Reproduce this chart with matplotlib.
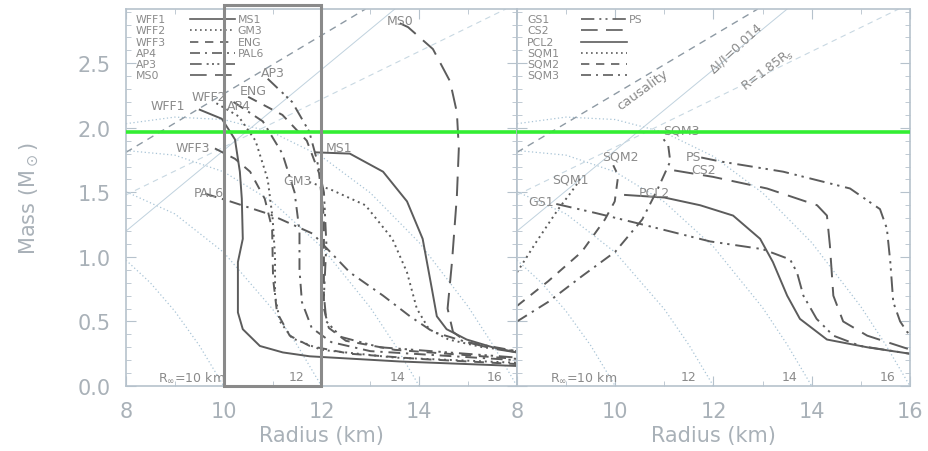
"""Mass-radius curves for neutron star equations of state,
normal matter on the left and self-bound / hybrid models on the right"""

import matplotlib.pyplot as plt
from matplotlib.patches import Rectangle

# ---- left panel equations of state (radius in km, mass in Msun) ----
wff1_r = [9.51, 9.96, 10.23, 10.33, 10.37, 10.39, 10.29, 10.29, 10.39, 10.74, 11.21, 11.76, 13.6, 16.0]
wff1_m = [2.14, 2.07, 1.91, 1.66, 1.45, 1.14, 0.96, 0.57, 0.44, 0.31, 0.26, 0.23, 0.19, 0.155]

wff2_r = [9.85, 10.3, 10.65, 10.9, 11.0, 11.05, 11.05, 11.15, 11.4, 12.0, 13.5, 16.0]
wff2_m = [2.19, 2.09, 1.9, 1.6, 1.3, 1.0, 0.7, 0.5, 0.37, 0.28, 0.22, 0.18]

wff3_r = [9.82, 10.23, 10.54, 10.84, 10.99, 11.01, 11.09, 11.35, 11.76, 12.58, 14.0, 16.0]
wff3_m = [1.84, 1.76, 1.66, 1.45, 1.22, 0.83, 0.57, 0.39, 0.31, 0.25, 0.21, 0.17]

ap4_r = [10.2, 10.8, 11.2, 11.45, 11.55, 11.55, 11.6, 11.8, 12.2, 13.0, 16.0]
ap4_m = [2.2, 2.05, 1.8, 1.5, 1.2, 0.9, 0.65, 0.45, 0.34, 0.27, 0.2]

ap3_r = [10.9, 11.4, 11.75, 11.9, 12.05, 12.1, 12.05, 12.1, 12.4, 13.2, 16.0]
ap3_m = [2.38, 2.2, 1.97, 1.76, 1.5, 1.1, 0.7, 0.5, 0.38, 0.3, 0.22]

eng_r = [10.5, 11.2, 11.7, 11.95, 12.05, 12.05, 12.05, 12.15, 12.5, 13.5, 16.0]
eng_m = [2.24, 2.1, 1.9, 1.65, 1.3, 0.9, 0.6, 0.45, 0.35, 0.28, 0.21]

ms0_r = [13.6, 13.77, 14.28, 14.63, 14.77, 14.81, 14.77, 14.67, 14.58, 14.69, 14.97, 15.5, 16.0]
ms0_m = [2.81, 2.78, 2.61, 2.36, 2.12, 1.84, 1.47, 0.96, 0.60, 0.42, 0.34, 0.29, 0.26]

ms1_r = [11.87, 12.58, 13.26, 13.75, 14.07, 14.26, 14.36, 14.56, 14.97, 15.5, 16.0]
ms1_m = [1.81, 1.80, 1.66, 1.43, 1.14, 0.75, 0.54, 0.44, 0.36, 0.30, 0.26]

gm3_r = [11.75, 12.2, 12.9, 13.45, 13.75, 13.95, 14.2, 14.6, 15.3, 16.0]
gm3_m = [1.58, 1.52, 1.40, 1.14, 0.88, 0.6, 0.44, 0.36, 0.30, 0.27]

pal6_r = [9.62, 10.13, 10.94, 11.82, 12.58, 13.26, 13.81, 14.28, 14.97, 16.0]
pal6_m = [1.49, 1.43, 1.33, 1.18, 0.88, 0.70, 0.54, 0.42, 0.34, 0.27]

# ---- right panel equations of state ----
gs1_r = [8.8, 9.6, 10.46, 11.93, 13.0, 13.56, 13.7, 13.83, 14.1, 14.44, 14.99, 16.0]
gs1_m = [1.41, 1.34, 1.26, 1.12, 1.06, 0.98, 0.88, 0.70, 0.52, 0.39, 0.31, 0.25]

ps_r = [11.75, 12.13, 13.42, 14.78, 15.39, 15.53, 15.6, 15.66, 15.8, 15.94, 16.0]
ps_m = [1.77, 1.74, 1.66, 1.53, 1.37, 1.22, 0.96, 0.65, 0.50, 0.42, 0.40]

cs2_r = [11.2, 11.99, 13.09, 14.11, 14.31, 14.37, 14.44, 14.64, 15.13, 15.94, 16.0]
cs2_m = [1.67, 1.62, 1.53, 1.40, 1.32, 1.09, 0.70, 0.50, 0.39, 0.29, 0.285]

pcl2_r = [10.2, 11.0, 11.73, 12.4, 12.95, 13.21, 13.5, 13.76, 14.31, 15.13, 16.0]
pcl2_m = [1.48, 1.46, 1.40, 1.32, 1.14, 0.96, 0.70, 0.52, 0.36, 0.30, 0.25]

sqm1_r = [8.0, 8.4, 8.84, 9.1, 9.25, 9.3]
sqm1_m = [0.88, 1.12, 1.37, 1.5, 1.58, 1.62]

sqm2_r = [8.0, 8.63, 9.32, 9.79, 9.99, 10.06, 9.96]
sqm2_m = [0.62, 0.81, 1.04, 1.29, 1.43, 1.63, 1.71]

sqm3_r = [8.0, 8.63, 9.32, 10.0, 10.55, 10.87, 11.12, 11.08, 10.95]
sqm3_m = [0.50, 0.65, 0.85, 1.04, 1.29, 1.53, 1.74, 1.86, 1.93]

# ---- constant R_infinity contours ----
rinf10_r = [8.0, 8.5, 9.0, 9.5, 10.0]
rinf10_m = [0.975, 0.799, 0.579, 0.314, 0.0]
rinf12_r = [8.0, 9.0, 10.0, 11.0, 11.5, 12.0]
rinf12_m = [1.505, 1.333, 1.035, 0.595, 0.318, 0.0]
rinf14_r = [8.0, 9.0, 10.0, 11.0, 12.0, 13.0, 13.5, 14.0]
rinf14_m = [1.824, 1.788, 1.659, 1.426, 1.078, 0.607, 0.321, 0.0]
rinf16_r = [8.0, 9.0, 10.0, 11.0, 12.0, 13.0, 14.0, 15.0, 15.5, 16.0]
rinf16_m = [2.032, 2.083, 2.064, 1.964, 1.778, 1.496, 1.111, 0.615, 0.323, 0.0]

# ---- straight constraint lines (end points) ----
causal_r = [8.0, 12.9]
causal_m = [1.81, 2.92]
vela_r = [8.0, 13.5]
vela_m = [1.2, 2.92]
rs185_r = [8.0, 15.77]
rs185_m = [1.48, 2.92]

pulsar_mass = 1.97

# line styles
SOLID = '-'
DOT = (0, (1, 2))
DASH = (0, (5, 4))
DASHDOT = (0, (6, 3, 1.2, 3))
DASHDOT3 = (0, (7, 3, 1.2, 2, 1.2, 2, 1.2, 3))
DASHDOT2 = (0, (8, 3, 1.2, 2.5, 1.2, 3))
LONGDASH = (0, (10, 5))

CURVE = '#5c5c5c'
TEXT = '#8a8a8a'
GUIDE = '#a9c4d6'
AXIS = '#b6c2cc'
TICKTXT = '#a9b1b8'

left_curves = [
    (wff1_r, wff1_m, SOLID), (wff2_r, wff2_m, DOT), (wff3_r, wff3_m, DASH),
    (ap4_r, ap4_m, DASHDOT), (ap3_r, ap3_m, DASHDOT3), (ms0_r, ms0_m, LONGDASH),
    (ms1_r, ms1_m, SOLID), (gm3_r, gm3_m, DOT), (eng_r, eng_m, DASH),
    (pal6_r, pal6_m, DASHDOT),
]
right_curves = [
    (gs1_r, gs1_m, DASHDOT2), (ps_r, ps_m, DASHDOT2), (cs2_r, cs2_m, LONGDASH),
    (pcl2_r, pcl2_m, SOLID), (sqm1_r, sqm1_m, DOT), (sqm2_r, sqm2_m, DASH),
    (sqm3_r, sqm3_m, DASHDOT),
]

fig = plt.figure(figsize=(9.29, 4.52), dpi=100)
ax1 = fig.add_axes([0.1356, 0.1438, 0.4209, 0.834])
ax2 = fig.add_axes([0.5565, 0.1438, 0.4230, 0.834])


def setup(ax, xlabels):
    ax.set_xlim(8, 16)
    ax.set_ylim(0, 2.92)
    for sp in ax.spines.values():
        sp.set_color(AXIS)
        sp.set_linewidth(1.2)
    ax.set_xticks([8, 10, 12, 14, 16], xlabels)
    ax.set_xticks(range(8, 17), minor=True)
    ax.set_yticks([0, 0.5, 1.0, 1.5, 2.0, 2.5])
    ax.set_yticks([i / 10 for i in range(30)], minor=True)
    ax.tick_params(which='both', direction='in', top=True, right=True,
                   color=AXIS, labelcolor=TICKTXT, labelsize=15)
    ax.tick_params(which='major', length=7, pad=11)
    ax.tick_params(which='minor', length=3.5)
    ax.set_xlabel('Radius (km)', color=TICKTXT, fontsize=15, labelpad=3)

    # constant R_infinity contours and their labels
    for rr, mm in [(rinf10_r, rinf10_m), (rinf12_r, rinf12_m),
                   (rinf14_r, rinf14_m), (rinf16_r, rinf16_m)]:
        ax.plot(rr, mm, color=GUIDE, lw=0.9, ls=(0, (1, 2)))
    ax.text(9.35, 0.07, r'R$_\infty$=10 km', color=TEXT, fontsize=9, ha='center', va='center')
    ax.text(11.5, 0.07, '12', color=TEXT, fontsize=9, ha='center', va='center')
    ax.text(13.55, 0.07, '14', color=TEXT, fontsize=9, ha='center', va='center')
    ax.text(15.55, 0.07, '16', color=TEXT, fontsize=9, ha='center', va='center')

    # causality, Vela glitch and 1.85 Rs limits
    ax.plot(causal_r, causal_m, color='#8e9aa4', lw=1.0, ls=(0, (5, 4)))
    ax.plot(vela_r, vela_m, color='#c0d2de', lw=0.7)
    ax.plot(rs185_r, rs185_m, color='#c8d8e2', lw=0.8, ls=(0, (5, 4)))

    ax.axhline(pulsar_mass, color='#33ee33', lw=2.6, zorder=6)


setup(ax1, ['8', '10', '12', '14', ''])
setup(ax2, ['8', '10', '12', '14', '16'])
ax2.tick_params(labelleft=False)
ax1.set_ylabel(r'Mass (M$_\odot$)', color=TICKTXT, fontsize=15, labelpad=26)

for rr, mm, ls in left_curves:
    ax1.plot(rr, mm, color=CURVE, lw=1.4, ls=ls)
for rr, mm, ls in right_curves:
    ax2.plot(rr, mm, color=CURVE, lw=1.4, ls=ls)

# curve names
lab = dict(color=TEXT, fontsize=9, ha='center', va='center')
for name, r, m in [('WFF1', 8.86, 2.17), ('WFF2', 9.7, 2.24), ('ENG', 10.6, 2.29),
                   ('AP4', 10.3, 2.17), ('AP3', 11.0, 2.43), ('MS0', 13.6, 2.83),
                   ('WFF3', 9.37, 1.85), ('MS1', 12.35, 1.85), ('GM3', 11.5, 1.59),
                   ('PAL6', 9.7, 1.50)]:
    ax1.text(r, m, name, **lab)
for name, r, m in [('SQM3', 11.35, 1.98), ('SQM2', 10.1, 1.78), ('PS', 11.6, 1.78),
                   ('CS2', 11.8, 1.68), ('SQM1', 9.08, 1.60), ('PCL2', 10.8, 1.50),
                   ('GS1', 8.5, 1.43)]:
    ax2.text(r, m, name, **lab)

# labels along the constraint lines
ax2.text(10.55, 2.3, 'causality', color=TEXT, fontsize=9.5, rotation=36, ha='center', va='center')
ax2.text(12.45, 2.62, r'$\Delta$I/I=0.014', color=TEXT, fontsize=9, rotation=43, ha='center', va='center')
ax2.text(13.1, 2.45, r'R=1.85R$_s$', color=TEXT, fontsize=9, rotation=37, ha='center', va='center')

# hand made legends
rows = [0.973, 0.944, 0.913, 0.884, 0.855, 0.825]
left_leg = [('WFF1', SOLID, 'MS1'), ('WFF2', DOT, 'GM3'), ('WFF3', DASH, 'ENG'),
            ('AP4', DASHDOT, 'PAL6'), ('AP3', DASHDOT3, ''), ('MS0', LONGDASH, '')]
right_leg = [('GS1', DASHDOT2, 'PS'), ('CS2', LONGDASH, ''), ('PCL2', SOLID, ''),
             ('SQM1', DOT, ''), ('SQM2', DASH, ''), ('SQM3', DASHDOT, '')]
for ax, leg in [(ax1, left_leg), (ax2, right_leg)]:
    for y, (a, ls, b) in zip(rows, leg):
        ax.text(0.026, y, a, transform=ax.transAxes, color=TEXT, fontsize=7.8, va='center')
        ax.plot([0.163, 0.28], [y, y], transform=ax.transAxes, color=CURVE, lw=1.2, ls=ls)
        if b:
            ax.text(0.285, y, b, transform=ax.transAxes, color=TEXT, fontsize=7.8, va='center')

# box marking the 10-12 km radius range
ax1.add_patch(Rectangle((10, 0), 2, 2.95, fill=False, ec='#8a8a8a', lw=2.2,
                        clip_on=False, zorder=7))

fig.savefig('out.png', dpi=100)
